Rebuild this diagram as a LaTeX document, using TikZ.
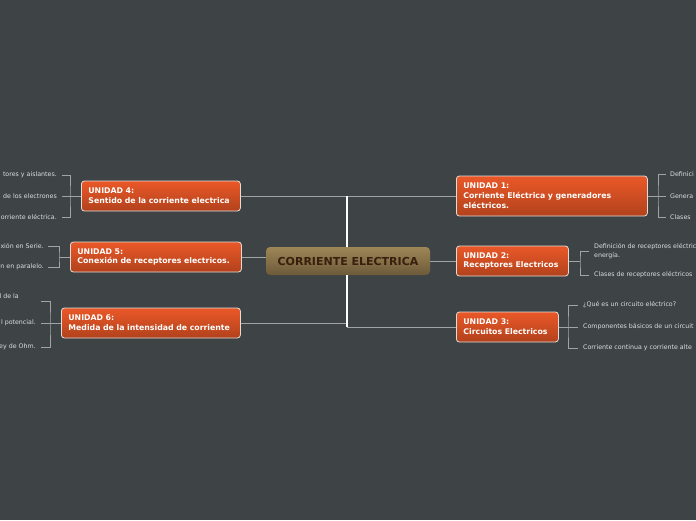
\documentclass[tikz,border=0pt]{standalone}
\usepackage{fontspec}
\setmainfont{DejaVu Sans}
\usetikzlibrary{calc}
\definecolor{bgc}{RGB}{62,68,70}
\definecolor{linec}{RGB}{160,164,164}
\definecolor{otop}{RGB}{234,88,40}
\definecolor{obot}{RGB}{178,66,28}
\definecolor{bordc}{RGB}{225,220,215}
\definecolor{ctop}{RGB}{158,134,86}
\definecolor{cbot}{RGB}{108,90,58}
\definecolor{ctext}{RGB}{58,30,14}
\definecolor{leafc}{RGB}{220,222,222}
\begin{document}
\begin{tikzpicture}[x=1pt,y=-1pt,
  unitbox/.style={draw=bordc, line width=0.8pt, rounded corners=3pt,
    top color=otop, bottom color=obot, text=white,
    font=\bfseries\fontsize{7.8}{9.8}\selectfont, align=left, anchor=west,
    inner xsep=7pt, inner ysep=0pt, minimum height=#1},
  centerbox/.style={rounded corners=4pt, top color=ctop, bottom color=cbot,
    text=ctext, font=\bfseries\fontsize{11}{12}\selectfont,
    inner sep=0pt},
  leaf/.style={text=leafc, font=\fontsize{6.3}{8.6}\selectfont, inner sep=0pt,
    align=left},
  conn/.style={draw=linec, line width=0.9pt},
  hubline/.style={draw=white, line width=1.5pt}
]
\fill[bgc] (0,0) rectangle (696,520);
\useasboundingbox (0,0) rectangle (696,520);

% central node
\node[centerbox, minimum width=164pt, minimum height=28pt] (c) at (348,261) {CORRIENTE ELECTRICA};

% units
\node[unitbox=40pt, text width=177pt] (u1) at (456,196) {UNIDAD 1:\\Corriente Eléctrica y generadores\\eléctricos.};
\node[unitbox=30pt, text width=98pt] (u2) at (456,261) {UNIDAD 2:\\Receptores Electricos};
\node[unitbox=30pt, text width=88pt] (u3) at (456,327) {UNIDAD 3:\\Circuitos Electricos};
\node[unitbox=30pt, text width=145pt] (u4) at (81,196) {UNIDAD 4:\\Sentido de la corriente electrica};
\node[unitbox=30pt, text width=157pt] (u5) at (70,257) {UNIDAD 5:\\Conexión de receptores electricos.};
\node[unitbox=30pt, text width=165pt] (u6) at (61,323) {UNIDAD 6:\\Medida de la intensidad de corriente};

% hub
\coordinate (hT) at (347,196);
\coordinate (hR) at (347,327);
\draw[conn] (u4.east) -- (u1.west);
\draw[conn] (u6.east) -- (u6.east -| hT);
\draw[conn] (hR) -- (u3.west);
\draw[conn] (u5.east) -- (u5.east -| c.west);
\draw[conn] (c.east |- u2.west) -- (u2.west);
\draw[hubline] (hT) -- (c.north -| hT);
\draw[hubline] (c.south -| hT) -- (hR);

% left leaves unit 4
\node[leaf, anchor=east] (l41) at (57,175) {tores y aislantes.};
\node[leaf, anchor=east] (l42) at (57,196) {de los electrones};
\node[leaf, anchor=east] (l43) at (57,217) {orriente eléctrica.};
\coordinate (b4) at (70,196);
\draw[conn] ([xshift=5pt]l41.east) -| (b4) |- ([xshift=5pt]l43.east);
\draw[conn] (u4.west) -- ([xshift=5pt]l42.east);

% left leaves unit 5
\node[leaf, anchor=east] (l51) at (44,246) {xión en Serie.};
\node[leaf, anchor=east] (l52) at (44,267) {n en paralelo.};
\coordinate (b5) at (59,257);
\draw[conn] ([xshift=4pt]l51.east) -| (b5) |- ([xshift=4pt]l52.east);
\draw[conn] (u5.west) -- (b5);

% left leaves unit 6
\node[leaf, anchor=east] (l61) at (19,296) {l de la};
\coordinate (t61) at (41,301);
\node[leaf, anchor=east] (l62) at (36,323) {l potencial.};
\node[leaf, anchor=east] (l63) at (36,347) {ey de Ohm.};
\coordinate (b6) at (50,323);
\draw[conn] (t61) -| (b6) |- ([xshift=5pt]l63.east);
\draw[conn] (u6.west) -- ([xshift=5pt]l62.east);

% right leaves unit 1
\node[leaf, anchor=west] (r11) at (670,174) {Definici};
\node[leaf, anchor=west] (r12) at (670,196) {Genera};
\node[leaf, anchor=west] (r13) at (670,217) {Clases};
\coordinate (b1) at (658,196);
\draw[conn] ([xshift=-4pt]r11.west) -| (b1) |- ([xshift=-4pt]r13.west);
\draw[conn] (u1.east) -- ([xshift=-4pt]r12.west);

% right leaves unit 2
\node[leaf, anchor=west] (r21) at (594,251) {Definición de receptores eléctric\\energía.};
\node[leaf, anchor=west] (r22) at (594,275) {Clases de receptores eléctricos};
\coordinate (b2) at (580,261);
\draw[conn] ([xshift=-5pt]r21.west) -| (b2) |- ([xshift=-5pt]r22.west);
\draw[conn] (u2.east) -- (b2);

% right leaves unit 3
\node[leaf, anchor=west] (r31) at (583,305) {¿Qué es un circuito eléctrico?};
\node[leaf, anchor=west] (r32) at (583,327) {Componentes básicos de un circuit};
\node[leaf, anchor=west] (r33) at (583,348) {Corriente continua y corriente alte};
\coordinate (b3) at (568,327);
\draw[conn] ([xshift=-5pt]r31.west) -| (b3) |- ([xshift=-5pt]r33.west);
\draw[conn] (u3.east) -- ([xshift=-5pt]r32.west);
\end{tikzpicture}
\end{document}
